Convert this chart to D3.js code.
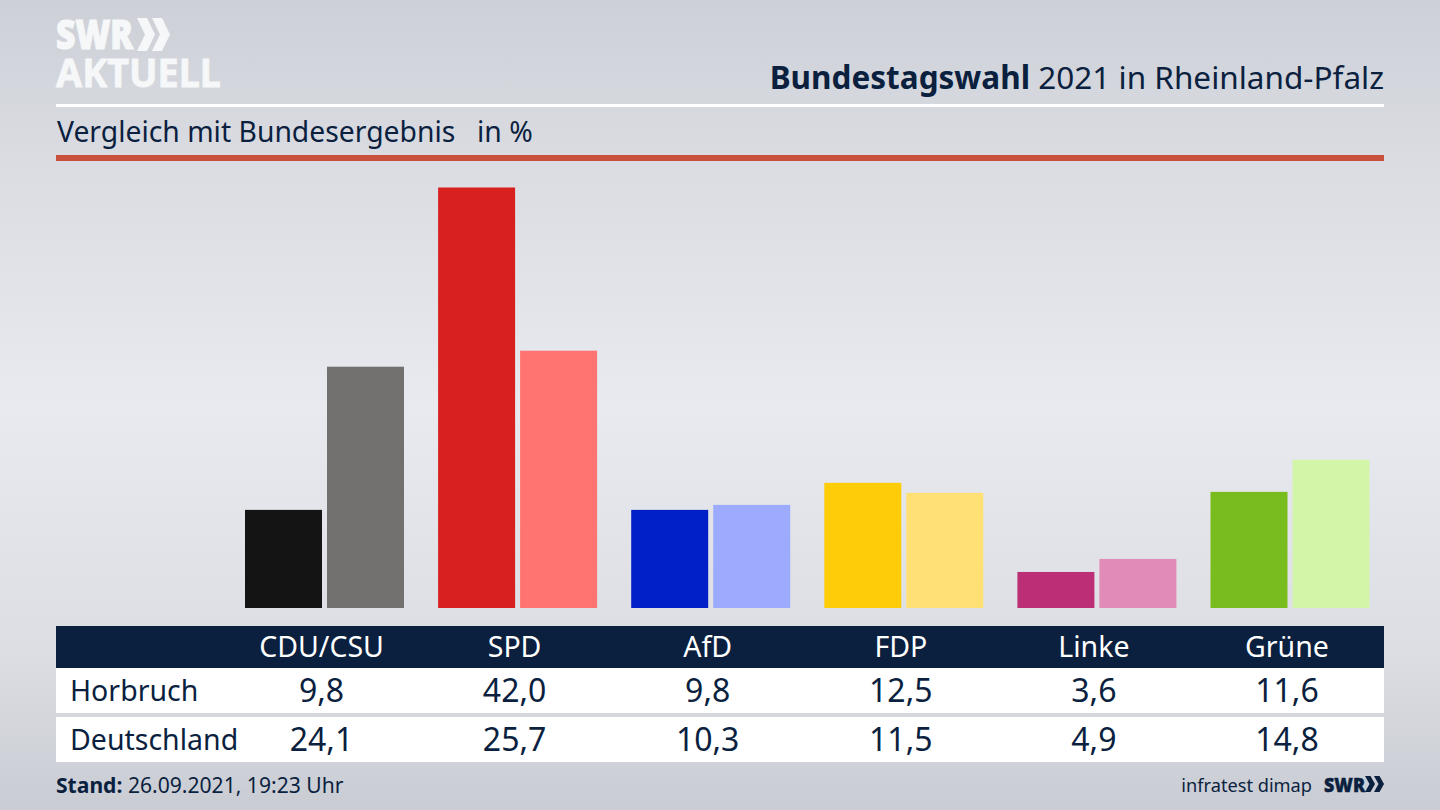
<!DOCTYPE html>
<html><head><meta charset="utf-8">
<script src="https://cdn.jsdelivr.net/npm/d3@7/dist/d3.min.js"></script>
<style>html,body{margin:0;padding:0;background:#d8dae0;overflow:hidden}svg{display:block}text{font-family:"Noto Sans","Open Sans",sans-serif}</style>
</head><body><svg id="c" width="1440" height="810"></svg>
<script>
const categories=["CDU/CSU","SPD","AfD","FDP","Linke","Grüne"];
const horbruch=[9.8,42.0,9.8,12.5,3.6,11.6];
const deutschland=[24.1,25.7,10.3,11.5,4.9,14.8];
const rowNames=["Horbruch","Deutschland"];
const colorsA=["#141414","#d8201e","#0220c8","#ffcc0a","#bc2f76","#78bc1e"];
const colorsB=["#72716f","#ff7370","#9dabff","#ffe074","#e08bb8","#d2f5a8"];
const navy="#0b1f3f";
const fmt=v=>v.toFixed(1).replace(".",",");

const svg=d3.select("#c");
const defs=svg.append("defs");
const g=defs.append("linearGradient").attr("id","bg").attr("x1",0).attr("x2",0).attr("y1",0).attr("y2",1);
[[0,"#cdd0d7"],[0.2,"#dadce2"],[0.5,"#e9eaef"],[0.8,"#dcdee3"],[1,"#c9ccd3"]].forEach(s=>g.append("stop").attr("offset",s[0]).attr("stop-color",s[1]));
svg.append("rect").attr("width",1440).attr("height",810).attr("fill","url(#bg)");

// Logo
const logoWhite="#f6f7f8";
svg.append("text").attr("x",56).attr("y",49).attr("fill",logoWhite).attr("stroke",logoWhite).attr("stroke-width",1.2).attr("font-size",40).attr("font-weight",800)
  .attr("textLength",77).attr("lengthAdjust","spacingAndGlyphs").style("font-family","'Open Sans'").text("SWR");
const chev=(x,y,w,h,t)=>`M${x},${y}h${t}l${w-t},${h/2}l${t-w},${h/2}h${-t}l${w-t},${-h/2}z`;
svg.append("path").attr("fill",logoWhite).attr("d",chev(137,18,18,33,10)+chev(152,18,18,33,10));
svg.append("text").attr("x",56).attr("y",87).attr("fill",logoWhite).attr("stroke",logoWhite).attr("stroke-width",0.8).attr("font-size",40).attr("font-weight",700)
  .attr("textLength",165).attr("lengthAdjust","spacingAndGlyphs").text("AKTUELL");

// Title
const title=svg.append("text").attr("x",1384).attr("y",89).attr("text-anchor","end").attr("fill",navy).attr("font-size",31.5);
title.append("tspan").attr("font-weight",700).text("Bundestagswahl");
title.append("tspan").text(" 2021 in Rheinland-Pfalz");
svg.append("rect").attr("x",56).attr("y",104).attr("width",1328).attr("height",3).attr("fill","#fff");
const sub=svg.append("text").attr("x",57).attr("y",142).attr("fill",navy).attr("font-size",28.3);
sub.append("tspan").text("Vergleich mit Bundesergebnis");
sub.append("tspan").attr("x",477).text("in %");
svg.append("rect").attr("x",56).attr("y",155).attr("width",1328).attr("height",6).attr("fill","#c9503c");

// Scales
const x=d3.scalePoint().domain(categories).range([321.5,1287]);
const y=d3.scaleLinear().domain([0,42]).range([608,187.5]);
const barW=77,gap=5;
const bars=svg.append("g");
bars.selectAll(".a").data(categories).join("rect").attr("class","a")
  .attr("x",d=>x(d)-barW+0.5).attr("width",barW)
  .attr("y",(d,i)=>y(horbruch[i])).attr("height",(d,i)=>y(0)-y(horbruch[i])).attr("fill",(d,i)=>colorsA[i]);
bars.selectAll(".b").data(categories).join("rect").attr("class","b")
  .attr("x",d=>x(d)+gap+0.5).attr("width",barW)
  .attr("y",(d,i)=>y(deutschland[i])).attr("height",(d,i)=>y(0)-y(deutschland[i])).attr("fill",(d,i)=>colorsB[i]);

// Table
svg.append("rect").attr("x",56).attr("y",626).attr("width",1328).attr("height",42).attr("fill",navy);
svg.append("rect").attr("x",56).attr("y",668).attr("width",1328).attr("height",45).attr("fill","#fff");
svg.append("rect").attr("x",56).attr("y",717).attr("width",1328).attr("height",45).attr("fill","#fff");
svg.selectAll(".h").data(categories).join("text").attr("class","h")
  .attr("x",d=>x(d)).attr("y",657).attr("text-anchor","middle").attr("fill","#fff").attr("font-size",28.5).text(d=>d);
[[horbruch,701],[deutschland,750]].forEach(([vals,yy],r)=>{
  svg.append("text").attr("x",70).attr("y",yy).attr("fill",navy).attr("font-size",28.5).text(rowNames[r]);
  svg.selectAll(".r"+r).data(vals).join("text").attr("class","r"+r)
    .attr("x",(d,i)=>x(categories[i])).attr("y",yy+1).attr("text-anchor","middle").attr("fill",navy).attr("font-size",32).text(fmt);
});

// Footer
const st=svg.append("text").attr("x",56).attr("y",793).attr("fill",navy).attr("font-size",21.1);
st.append("tspan").attr("font-weight",700).text("Stand:");
st.append("tspan").text(" 26.09.2021, 19:23 Uhr");
svg.append("text").attr("x",1312).attr("y",792).attr("text-anchor","end").attr("fill",navy).attr("font-size",18.2).text("infratest dimap");
svg.append("text").attr("x",1324).attr("y",792).attr("fill",navy).attr("stroke",navy).attr("stroke-width",0.5).attr("font-size",20).attr("font-weight",800)
  .attr("textLength",41).attr("lengthAdjust","spacingAndGlyphs").style("font-family","'Open Sans'").text("SWR");
svg.append("path").attr("fill",navy).attr("d",chev(1365,776,10,16,5.5)+chev(1374,776,10,16,5.5));
</script></body></html>
